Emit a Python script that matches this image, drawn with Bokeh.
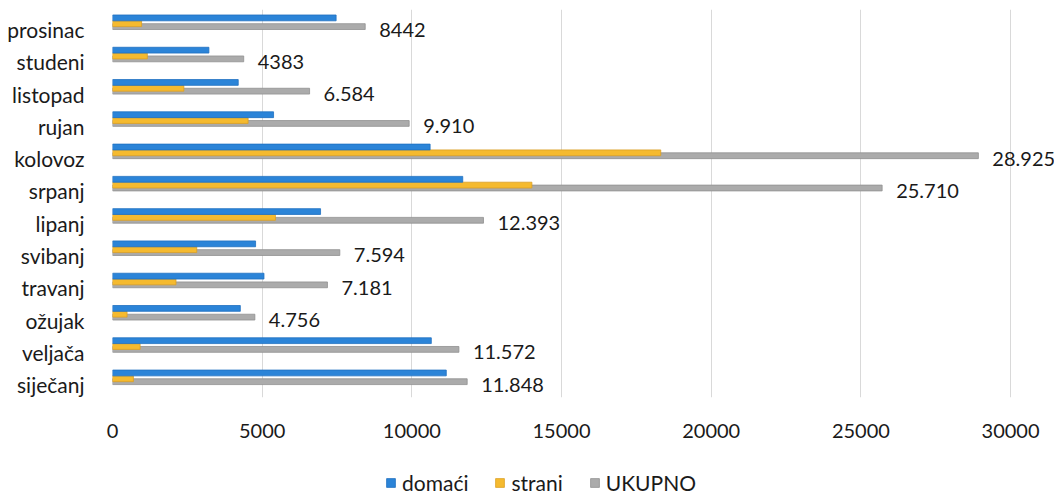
from bokeh.plotting import figure
from bokeh.models import ColumnDataSource, FixedTicker, Legend, LegendItem
from bokeh.layouts import column
from bokeh.transform import dodge
from bokeh.core.properties import value
from bokeh.embed import file_html
from bokeh.resources import INLINE

# Data (bottom to top)
months = ["siječanj", "veljača", "ožujak", "travanj", "svibanj", "lipanj",
          "srpanj", "kolovoz", "rujan", "listopad", "studeni", "prosinac"]
domaci = [11150, 10650, 4270, 5060, 4780, 6950, 11700, 10610, 5380, 4200, 3220, 7470]
strani = [698, 922, 486, 2121, 2814, 5443, 14010, 18315, 4530, 2384, 1163, 972]
ukupno = [11848, 11572, 4756, 7181, 7594, 12393, 25710, 28925, 9910, 6584, 4383, 8442]
total_labels = ["11.848", "11.572", "4.756", "7.181", "7.594", "12.393",
                "25.710", "28.925", "9.910", "6.584", "4383", "8442"]
series_names = ["domaći", "strani", "UKUPNO"]
x_ticks = [0, 5000, 10000, 15000, 20000, 25000, 30000]

FONT = "Lato"
BLUE = "#2B84D8"
YELLOW = "#F5BA2F"
GREY = "#ABABAB"
colors = [BLUE, YELLOW, GREY]
edges = ["#2070c0", "#dca024", "#909090"]

idx = list(range(len(months)))
src = ColumnDataSource(dict(y=idx, dom=domaci, str=strani, uk=ukupno, lab=total_labels))

p = figure(width=1054, height=470, output_backend="svg", toolbar_location=None,
           x_range=(0, 31468), y_range=(-0.40, 11.62),
           min_border_left=112, min_border_right=0, min_border_top=9, min_border_bottom=73)
p.outline_line_color = None
p.background_fill_color = "white"

p.hbar(y=dodge("y", 0.09), left=0, right="uk", height=0.18, source=src,
       fill_color=GREY, line_color=edges[2], line_width=0.8)
p.hbar(y=dodge("y", 0.18), left=0, right="str", height=0.18, source=src,
       fill_color=YELLOW, line_color=edges[1], line_width=0.8)
p.hbar(y=dodge("y", 0.36), left=0, right="dom", height=0.18, source=src,
       fill_color=BLUE, line_color=edges[0], line_width=0.8)

p.text(x="uk", y="y", text="lab", source=src, x_offset=14, text_baseline="middle",
       text_align="left", text_font=value(FONT), text_font_size="20px", text_color="#1a1a1a")

# Axes
p.xaxis.ticker = FixedTicker(ticks=x_ticks)
p.xaxis.axis_line_color = None
p.xaxis.major_tick_line_color = None
p.xaxis.minor_tick_line_color = None
p.xaxis.major_label_standoff = 20
p.xaxis.major_label_text_font = FONT
p.xaxis.major_label_text_font_size = "20px"
p.xaxis.major_label_text_color = "#1a1a1a"

p.yaxis.ticker = FixedTicker(ticks=idx)
p.yaxis.major_label_overrides = {i: m for i, m in zip(idx, months)}
p.yaxis.axis_line_color = None
p.yaxis.major_tick_line_color = None
p.yaxis.minor_tick_line_color = None
p.yaxis.major_label_standoff = 22
p.yaxis.major_label_text_font = FONT
p.yaxis.major_label_text_font_size = "21px"
p.yaxis.major_label_text_color = "#1a1a1a"

p.xgrid.ticker = FixedTicker(ticks=x_ticks)
p.xgrid.grid_line_color = "#d9d9d9"
p.xgrid.grid_line_width = 1
p.ygrid.grid_line_color = None

# Legend strip below the chart (zero-size proxy bars, outside the visible range)
pl = figure(width=1054, height=25, output_backend="svg", toolbar_location=None,
            x_range=(0, 1), y_range=(0, 1), min_border=0)
pl.outline_line_color = None
pl.axis.visible = False
pl.grid.visible = False
items = []
for name, c, e in zip(series_names, colors, edges):
    r = pl.hbar(y=[-5], left=[0], right=[0], height=0.0, fill_color=c, line_color=e, line_width=0.8)
    items.append(LegendItem(label=name, renderers=[r]))
legend = Legend(items=items, orientation="horizontal", location=(273, 0),
                glyph_width=11, glyph_height=11, label_standoff=6, spacing=26,
                padding=0, margin=0, border_line_color=None, background_fill_alpha=0,
                label_height=18,
                label_text_font=FONT, label_text_font_size="21px", label_text_color="#1a1a1a")
pl.add_layout(legend)

layout = column(p, pl, spacing=0)
open("out.html", "w").write(file_html(layout, INLINE))
